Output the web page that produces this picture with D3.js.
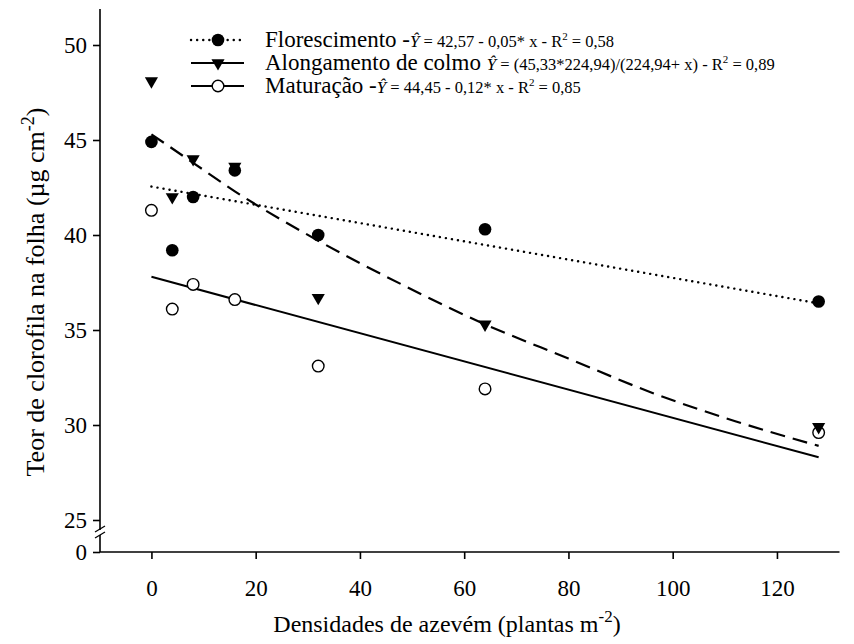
<!DOCTYPE html>
<html>
<head>
<meta charset="utf-8">
<script src="https://cdn.jsdelivr.net/npm/d3@7"></script>
<style>
  html, body { margin: 0; padding: 0; background: #fff; }
  svg { display: block; }
</style>
</head>
<body>
<svg id="chart" width="854" height="644"></svg>
<script>
// ---------- data ----------
const densidades = [0, 4, 8, 16, 32, 64, 128];
const florescimento = [44.9, 39.2, 42.0, 43.4, 40.0, 40.3, 36.5];
const alongamento   = [48.1, 42.0, 44.0, 43.6, 36.7, 35.3, 29.9];
const maturacao     = [41.3, 36.1, 37.4, 36.6, 33.1, 31.9, 29.6];

// fitted lines as they appear in the picture (x, y)
const fitFlorescimento = [[0, 42.55], [128, 36.4]];
const fitAlongamento = [[0, 45.3], [8, 43.8], [16, 42.3], [32, 39.7], [48, 37.4],
                        [64, 35.3], [80, 33.5], [96, 31.7], [112, 30.2], [128, 28.9]];
const fitMaturacao = [[0, 37.8], [128, 28.3]];

const xTicks = [0, 20, 40, 60, 80, 100, 120];
const yTicksUpper = [25, 30, 35, 40, 45, 50];
const yTicksLower = [0];

const legendNames = ["Florescimento -", "Alongamento de colmo ", "Maturação -"];
const legendEqs = [
  [" = 42,57 - 0,05* x - R", " = 0,58"],
  [" = (45,33*224,94)/(224,94+ x) - R", " = 0,89"],
  [" = 44,45 - 0,12* x - R", " = 0,85"]
];

// ---------- layout ----------
const FONT = '"Liberation Serif", "Times New Roman", Times, serif';
const svg = d3.select("#chart").attr("font-family", FONT);
const axisX = 100;        // y-axis position
const axisY = 552;        // x-axis position

const x = d3.scaleLinear().domain([-10, 132]).range([99.3, 839.5]);
const y = d3.scaleLinear().domain([25, 50]).range([520, 45]);
const yLow = d3.scaleLinear().domain([0, 1]).range([axisY, axisY - 19]);

const fontMain = 23;

// y axis upper segment
svg.append("line")
  .attr("x1", axisX).attr("x2", axisX)
  .attr("y1", y(51.9)).attr("y2", 530)
  .attr("stroke", "#000").attr("stroke-width", 1.6);
// y axis lower segment
svg.append("line")
  .attr("x1", axisX).attr("x2", axisX)
  .attr("y1", 535).attr("y2", axisY)
  .attr("stroke", "#000").attr("stroke-width", 1.6);
// break marks
[529, 535].forEach(yy => {
  svg.append("line")
    .attr("x1", axisX - 5).attr("y1", yy + 3)
    .attr("x2", axisX + 5).attr("y2", yy - 3)
    .attr("stroke", "#000").attr("stroke-width", 1.3);
});

const yAxisG = svg.append("g").attr("transform", `translate(${axisX},0)`)
  .call(d3.axisLeft(y).tickValues(yTicksUpper).tickSize(7).tickPadding(6).tickFormat(d3.format("d")));
yAxisG.select(".domain").remove();

const yAxisLowG = svg.append("g").attr("transform", `translate(${axisX},0)`)
  .call(d3.axisLeft(yLow).tickValues(yTicksLower).tickSize(7).tickPadding(6).tickFormat(d3.format("d")));
yAxisLowG.select(".domain").remove();

[yAxisG, yAxisLowG].forEach(g => {
  g.attr("font-family", FONT).attr("font-size", fontMain);
  g.selectAll(".tick line").attr("stroke", "#000").attr("stroke-width", 1.6);
  g.selectAll(".tick text").attr("font-size", fontMain)
    .attr("font-family", FONT).attr("fill", "#000");
});

// x axis
svg.append("line")
  .attr("x1", axisX).attr("x2", x(132))
  .attr("y1", axisY).attr("y2", axisY)
  .attr("stroke", "#000").attr("stroke-width", 1.6);
const xAxisG = svg.append("g").attr("transform", `translate(0,${axisY})`)
  .call(d3.axisBottom(x).tickValues(xTicks).tickSize(7).tickPadding(21).tickFormat(d3.format("d")));
xAxisG.select(".domain").remove();
xAxisG.attr("font-family", FONT).attr("font-size", fontMain);
xAxisG.selectAll(".tick line").attr("stroke", "#000").attr("stroke-width", 1.6);
xAxisG.selectAll(".tick text").attr("font-size", fontMain)
  .attr("font-family", FONT).attr("fill", "#000");

// axis titles
const xt = svg.append("text")
  .attr("x", 447).attr("y", 632)
  .attr("text-anchor", "middle")
  .attr("font-family", FONT)
  .attr("font-size", 24);
xt.append("tspan").text("Densidades de azevém (plantas m");
xt.append("tspan").attr("font-size", 17).attr("dy", -10).text("-2");
xt.append("tspan").attr("dy", 10).text(")");

const yt = svg.append("text")
  .attr("transform", `translate(44,${y(37)}) rotate(-90)`)
  .attr("text-anchor", "middle")
  .attr("font-family", FONT)
  .attr("font-size", 26);
yt.append("tspan").text("Teor de clorofila na folha (µg cm");
yt.append("tspan").attr("font-size", 18).attr("dy", -10).text("-2");
yt.append("tspan").attr("dy", 10).text(")");

// ---------- fitted lines ----------
const lineGen = d3.line().x(d => x(d[0])).y(d => y(d[1]));
const lineCurve = d3.line().x(d => x(d[0])).y(d => y(d[1])).curve(d3.curveMonotoneX);

svg.append("path").datum(fitFlorescimento)
  .attr("d", lineGen).attr("fill", "none").attr("stroke", "#000")
  .attr("stroke-width", 2.4).attr("stroke-linecap", "round")
  .attr("stroke-dasharray", "0.1 6");
svg.append("path").datum(fitAlongamento)
  .attr("d", lineCurve).attr("fill", "none").attr("stroke", "#000")
  .attr("stroke-width", 2.2).attr("stroke-dasharray", "15 8");
svg.append("path").datum(fitMaturacao)
  .attr("d", lineGen).attr("fill", "none").attr("stroke", "#000")
  .attr("stroke-width", 2);

// ---------- markers ----------
const tri = d3.symbol().type(d3.symbolTriangle).size(75);

function drawOpenCircles(vals) {
  svg.append("g").selectAll("circle").data(densidades).join("circle")
    .attr("cx", d => x(d)).attr("cy", (d, i) => y(vals[i]))
    .attr("r", 5.8).attr("fill", "#fff").attr("stroke", "#000").attr("stroke-width", 1.4);
}
function drawFilledCircles(vals) {
  svg.append("g").selectAll("circle").data(densidades).join("circle")
    .attr("cx", d => x(d)).attr("cy", (d, i) => y(vals[i]))
    .attr("r", 6.3).attr("fill", "#000");
}
function drawTriangles(vals) {
  svg.append("g").selectAll("path").data(densidades).join("path")
    .attr("d", tri)
    .attr("transform", (d, i) => `translate(${x(d)},${y(vals[i])}) rotate(180)`)
    .attr("fill", "#000");
}
drawOpenCircles(maturacao);
drawTriangles(alongamento);
drawFilledCircles(florescimento);

// ---------- legend ----------
const legRows = [40, 63, 86];
const legX0 = 191, legX1 = 244, legMx = 218, legTextX = 265;
legRows.forEach((ly, i) => {
  const seg = svg.append("line")
    .attr("x1", legX0).attr("x2", legX1).attr("y1", ly).attr("y2", ly)
    .attr("stroke", "#000");
  if (i === 0) {
    seg.attr("stroke-width", 2.4).attr("stroke-linecap", "round").attr("stroke-dasharray", "0.1 6");
    svg.append("circle").attr("cx", legMx).attr("cy", ly).attr("r", 6.3).attr("fill", "#000");
  } else if (i === 1) {
    seg.attr("stroke-width", 2);
    svg.append("path").attr("d", tri).attr("transform", `translate(${legMx},${ly}) rotate(180)`).attr("fill", "#000");
  } else {
    seg.attr("stroke-width", 2);
    svg.append("circle").attr("cx", legMx).attr("cy", ly).attr("r", 5.8)
      .attr("fill", "#fff").attr("stroke", "#000").attr("stroke-width", 1.4);
  }
  const t = svg.append("text").attr("x", legTextX).attr("y", ly + 7).attr("font-family", FONT);
  t.append("tspan").attr("font-size", fontMain).text(legendNames[i]);
  t.append("tspan").attr("font-size", 17).attr("font-style", "italic").text("Ŷ");
  t.append("tspan").attr("font-size", 16.5).text(legendEqs[i][0]);
  t.append("tspan").attr("font-size", 11).attr("dy", -7).text("2");
  t.append("tspan").attr("font-size", 16.5).attr("dy", 7).text(legendEqs[i][1]);
});
</script>
</body>
</html>
